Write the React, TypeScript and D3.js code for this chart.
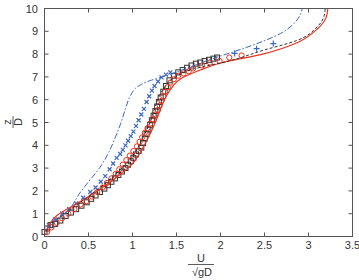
import React from "react";
import * as d3 from "d3";

// velocity profiles, x = U/sqrt(gD), y = z/D
const blueLineX = [0.02, 0.1, 0.26, 0.4, 0.5, 0.63, 0.74, 0.81, 0.87, 0.92, 0.98, 1.05, 1.16, 1.39, 1.6, 1.91, 2.3, 2.68, 2.87, 2.93];
const blueLineY = [0.3, 0.6, 1.1, 1.9, 2.4, 3.03, 3.77, 4.4, 5.0, 5.6, 6.2, 6.55, 6.78, 7.06, 7.35, 7.8, 8.3, 8.9, 9.5, 10];

const redLineX = [0.02, 0.05, 0.14, 0.37, 0.6, 0.82, 1.0, 1.12, 1.2, 1.27, 1.33, 1.39, 1.46, 1.54, 1.77, 1.99, 2.48, 2.87, 3.1, 3.2, 3.22];
const redLineY = [0.2, 0.5, 0.92, 1.45, 2.0, 2.6, 3.2, 3.9, 4.5, 5.1, 5.7, 6.2, 6.6, 6.9, 7.3, 7.6, 8.0, 8.5, 9.1, 9.6, 10];

const blackLineX = [0.02, 0.08, 0.3, 0.55, 0.8, 0.98, 1.1, 1.2, 1.27, 1.34, 1.45, 1.7, 2.1, 2.48, 2.87, 3.1, 3.18, 3.19];
const blackLineY = [0.25, 0.55, 1.2, 1.9, 2.7, 3.4, 4.2, 5.0, 5.8, 6.4, 6.9, 7.35, 7.7, 8.16, 8.6, 9.2, 9.7, 10];

const squareX = [0.0, 0.03, 0.07, 0.12, 0.18, 0.24, 0.3, 0.36, 0.42, 0.48, 0.53, 0.58, 0.63, 0.68, 0.72, 0.76, 0.8, 0.84, 0.88, 0.92, 0.95, 0.98, 1.01, 1.04, 1.07, 1.1, 1.12, 1.14, 1.16, 1.18, 1.2, 1.22, 1.24, 1.26, 1.28, 1.3, 1.32, 1.35, 1.38, 1.42, 1.47, 1.52, 1.57, 1.62, 1.67, 1.72, 1.77, 1.82, 1.87, 1.92, 1.96];
const squareY = [0.2, 0.35, 0.5, 0.55, 0.7, 0.9, 1.05, 1.2, 1.35, 1.5, 1.65, 1.8, 1.95, 2.1, 2.25, 2.4, 2.55, 2.7, 2.85, 3.0, 3.15, 3.3, 3.45, 3.6, 3.75, 3.9, 4.1, 4.3, 4.5, 4.7, 4.9, 5.1, 5.3, 5.5, 5.7, 5.9, 6.1, 6.35, 6.6, 6.85, 7.05, 7.2, 7.3, 7.4, 7.5, 7.58, 7.63, 7.7, 7.75, 7.8, 7.85];

const circleX = [0.03, 0.08, 0.14, 0.2, 0.27, 0.34, 0.41, 0.48, 0.54, 0.6, 0.66, 0.71, 0.76, 0.81, 0.85, 0.89, 0.93, 0.97, 1.01, 1.05, 1.08, 1.11, 1.14, 1.17, 1.2, 1.23, 1.26, 1.29, 1.31, 1.33, 1.35, 1.37, 1.4, 1.43, 1.47, 1.52, 1.58, 1.64, 1.69, 1.79, 1.88, 1.99, 2.1, 2.24];
const circleY = [0.2, 0.4, 0.6, 0.8, 1.0, 1.2, 1.4, 1.55, 1.75, 1.95, 2.15, 2.35, 2.55, 2.75, 2.95, 3.15, 3.35, 3.55, 3.75, 3.95, 4.15, 4.35, 4.55, 4.75, 4.95, 5.15, 5.35, 5.55, 5.75, 5.95, 6.15, 6.35, 6.55, 6.75, 6.9, 7.05, 7.15, 7.25, 7.37, 7.5, 7.63, 7.7, 7.85, 7.94];

const crossX = [0.05, 0.12, 0.2, 0.28, 0.36, 0.44, 0.52, 0.58, 0.64, 0.69, 0.74, 0.78, 0.82, 0.86, 0.89, 0.92, 0.95, 0.98, 1.01, 1.04, 1.07, 1.1, 1.13, 1.16, 1.19, 1.22, 1.25, 1.29, 1.33, 1.38, 1.43];
const crossY = [0.5, 0.75, 1.0, 1.2, 1.45, 1.7, 1.95, 2.15, 2.4, 2.65, 2.95, 3.2, 3.45, 3.62, 3.8, 4.0, 4.2, 4.4, 4.6, 4.85, 5.1, 5.35, 5.6, 5.9, 6.15, 6.4, 6.6, 6.8, 6.98, 7.1, 7.2];

const plusX = [2.16, 2.41, 2.6];
const plusY = [8.03, 8.24, 8.46];

const xTicks = [0, 0.5, 1, 1.5, 2, 2.5, 3, 3.5];
const yTicks = [0, 1, 2, 3, 4, 5, 6, 7, 8, 9, 10];

const blue = "#3a67c0";
const red = "#e8331f";
const dark = "#333333";
const axisColor = "#555555";
const font = "'Liberation Sans', Arial, sans-serif";

export default function App() {
  const left = 44.5, right = 352.5, top = 8.5, bottom = 236.5;
  const x = d3.scaleLinear().domain([0, 3.5]).range([left, right]);
  const y = d3.scaleLinear().domain([0, 10]).range([bottom, top]);

  const line = d3
    .line<[number, number]>()
    .x((d) => x(d[0]))
    .y((d) => y(d[1]))
    .curve(d3.curveMonotoneY);

  const zip = (a: number[], b: number[]) => a.map((v, i) => [v, b[i]] as [number, number]);

  return (
    <svg width={359} height={280} style={{ position: "absolute", left: 0, top: 0 }}>
      <rect width={359} height={280} fill="#fff" />
      {/* markers */}
      {zip(squareX, squareY).map((d, i) => (
        <rect key={"s" + i} x={x(d[0]) - 2.5} y={y(d[1]) - 2.5} width={5} height={5} fill="none" stroke={dark} strokeWidth={1} />
      ))}
      {zip(circleX, circleY).map((d, i) => (
        <circle key={"c" + i} cx={x(d[0])} cy={y(d[1])} r={2.6} fill="none" stroke={red} strokeWidth={1} />
      ))}
      {zip(crossX, crossY).map((d, i) => (
        <path key={"x" + i} d={`M${x(d[0]) - 2},${y(d[1]) - 2}L${x(d[0]) + 2},${y(d[1]) + 2}M${x(d[0]) - 2},${y(d[1]) + 2}L${x(d[0]) + 2},${y(d[1]) - 2}`} stroke={blue} strokeWidth={1.2} />
      ))}
      {zip(plusX, plusY).map((d, i) => (
        <path key={"p" + i} d={`M${x(d[0]) - 3},${y(d[1])}L${x(d[0]) + 3},${y(d[1])}M${x(d[0])},${y(d[1]) - 3}L${x(d[0])},${y(d[1]) + 3}`} stroke={blue} strokeWidth={1.2} />
      ))}
      {/* lines */}
      <path d={line(zip(redLineX, redLineY)) ?? ""} fill="none" stroke={red} strokeWidth={1.2} />
      <path d={line(zip(blackLineX, blackLineY)) ?? ""} fill="none" stroke={dark} strokeWidth={1} strokeDasharray="3,2" />
      <path d={line(zip(blueLineX, blueLineY)) ?? ""} fill="none" stroke={blue} strokeWidth={1} strokeDasharray="6,2,1.5,2" />
      {/* box + ticks */}
      <rect x={left} y={top} width={right - left} height={bottom - top} fill="none" stroke={axisColor} strokeWidth={1} />
      {xTicks.map((t) => (
        <g key={"xt" + t}>
          <line x1={x(t)} x2={x(t)} y1={bottom} y2={bottom - 4} stroke={axisColor} />
          <line x1={x(t)} x2={x(t)} y1={top} y2={top + 4} stroke={axisColor} />
          <text x={x(t)} y={249} textAnchor="middle" fontFamily={font} fontSize={11} fill={dark}>
            {t}
          </text>
        </g>
      ))}
      {yTicks.map((t) => (
        <g key={"yt" + t}>
          <line x1={left} x2={left + 4} y1={y(t)} y2={y(t)} stroke={axisColor} />
          <line x1={right} x2={right - 4} y1={y(t)} y2={y(t)} stroke={axisColor} />
          <text x={38} y={y(t) + 4} textAnchor="end" fontFamily={font} fontSize={11} fill={dark}>
            {t}
          </text>
        </g>
      ))}
      {/* x label: U / sqrt(gD) */}
      <g fontFamily={font} fontSize={11} fill={dark}>
        <text x={201} y={262} textAnchor="middle">U</text>
        <line x1={188} x2={214} y1={264.5} y2={264.5} stroke={dark} strokeWidth={0.8} />
        <text x={202} y={276} textAnchor="middle">√gD</text>
      </g>
      {/* y label: z / D */}
      <g transform="translate(13,122) rotate(-90)" fontFamily={font} fontSize={11} fill={dark}>
        <text x={0} y={-2} textAnchor="middle">z</text>
        <line x1={-6} x2={6} y1={0} y2={0} stroke={dark} strokeWidth={0.8} />
        <text x={0} y={9} textAnchor="middle">D</text>
      </g>
    </svg>
  );
}
